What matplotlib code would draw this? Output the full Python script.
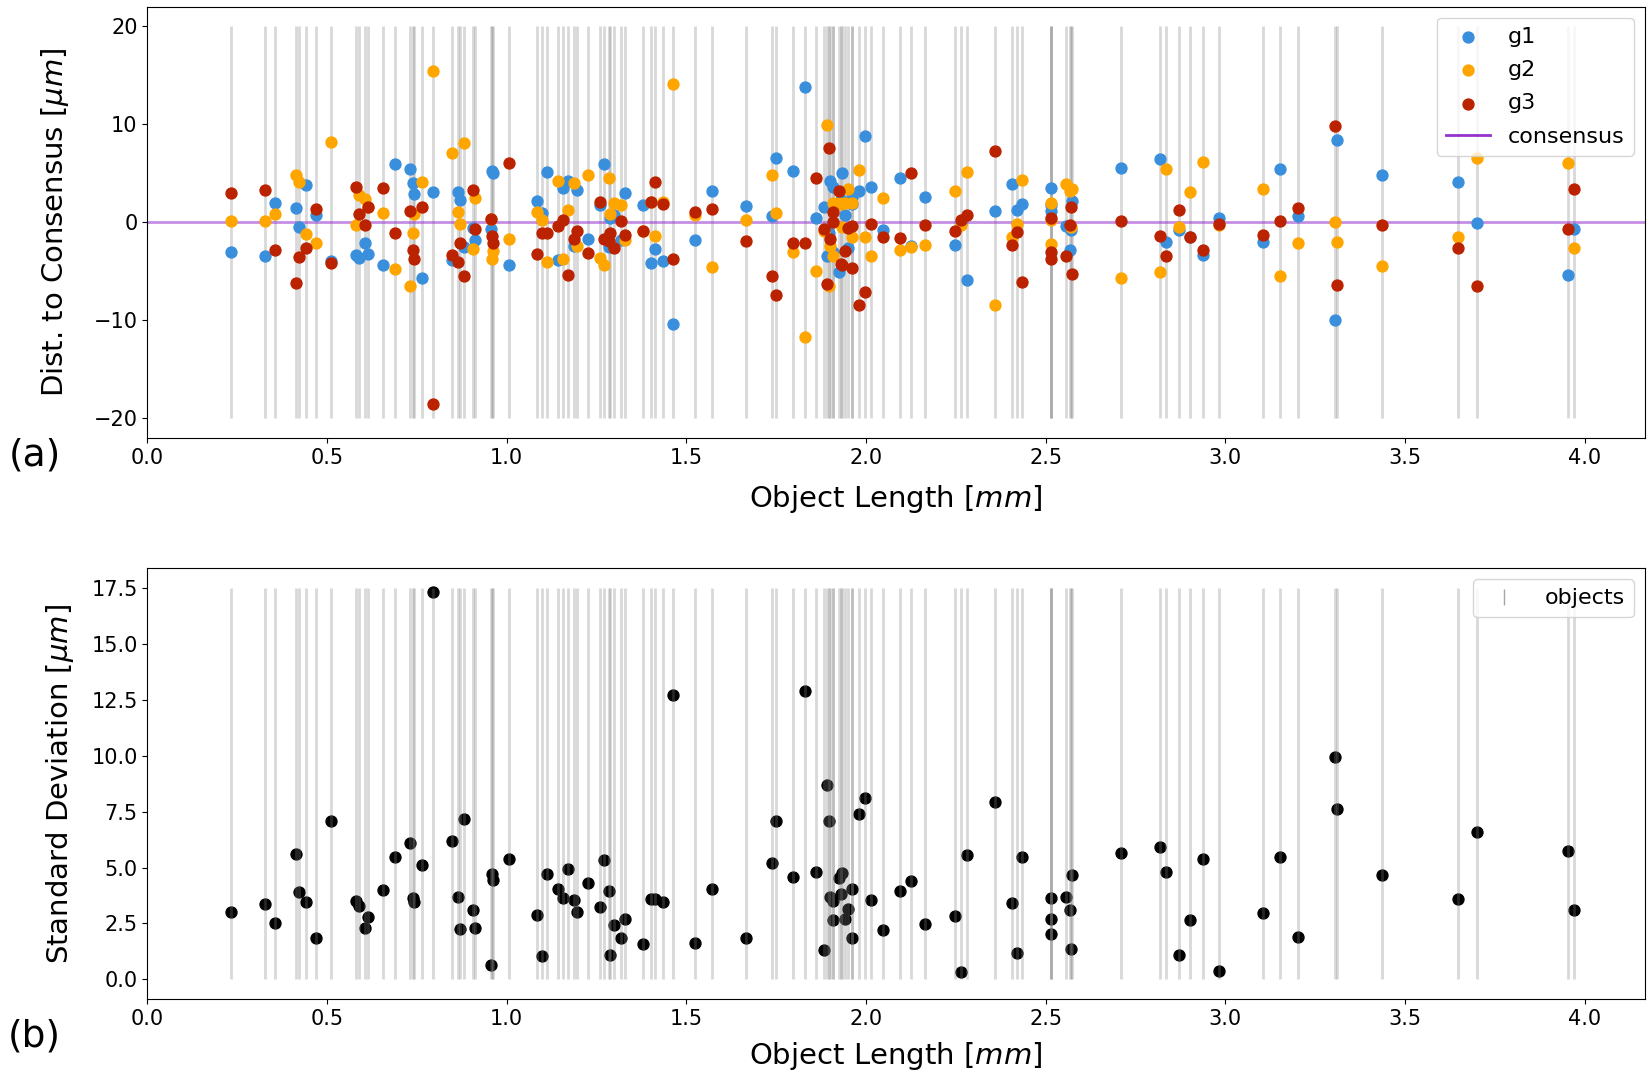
import numpy as np
import matplotlib
matplotlib.use('Agg')
import matplotlib.pyplot as plt
from matplotlib.lines import Line2D

# object lengths [mm]
length = [0.233, 0.326, 0.355, 0.414, 0.423, 0.441, 0.469, 0.512, 0.582, 0.590,
          0.607, 0.615, 0.657, 0.690, 0.730, 0.738, 0.741, 0.764, 0.794, 0.849,
          0.864, 0.869, 0.882, 0.905, 0.911, 0.957, 0.959, 0.962, 1.007, 1.083,
          1.099, 1.111, 1.142, 1.157, 1.171, 1.187, 1.196, 1.227, 1.260, 1.271,
          1.285, 1.287, 1.299, 1.318, 1.329, 1.379, 1.401, 1.414, 1.434, 1.463,
          1.524, 1.572, 1.666, 1.737, 1.749, 1.797, 1.830, 1.860, 1.884, 1.892,
          1.898, 1.900, 1.908, 1.907, 1.925, 1.930, 1.933, 1.942, 1.950, 1.960,
          1.961, 1.980, 1.997, 2.013, 2.048, 2.095, 2.125, 2.164, 2.248, 2.263,
          2.282, 2.360, 2.407, 2.419, 2.435, 2.514, 2.515, 2.516, 2.556, 2.568,
          2.570, 2.573, 2.710, 2.819, 2.834, 2.870, 2.901, 2.939, 2.983, 3.104,
          3.151, 3.203, 3.306, 3.311, 3.436, 3.646, 3.700, 3.954, 3.971]

# distance of each group to consensus [um]
dev_g1 = [-3.06, -3.40, 2.00, 1.43, -0.51, 3.84, 0.78, -3.90, -3.33, -3.63,
          -2.07, -3.19, -4.35, 5.94, 5.47, 4.04, 2.85, -5.70, 3.09, -3.80,
          3.06, 2.31, -2.50, -0.58, -1.83, -0.68, 5.19, 5.02, -4.31, 2.21,
          0.95, 5.16, -3.80, 3.50, 4.18, -2.38, 3.33, -1.70, 1.73, 5.94,
          -2.51, 0.44, 0.78, -1.77, 3.02, 1.73, -4.14, -2.72, -3.90, -10.36,
          -1.83, 3.16, 1.66, 0.68, 6.55, 5.23, 13.79, 0.48, 1.53, -3.46,
          -1.12, 4.25, 3.60, -3.06, -5.09, 2.30, 5.03, 0.75, -2.61, 2.60,
          1.90, 3.16, 8.76, 3.60, -0.81, 4.48, -2.38, 2.61, -2.27, -0.03,
          -5.84, 1.12, 3.94, 1.29, 1.87, 3.50, 1.12, 1.77, -0.41, -2.85,
          -0.75, 2.14, 5.53, 6.45, -2.00, -0.75, -1.53, -3.29, 0.44, -2.04,
          5.40, 0.61, -9.92, 8.39, 4.79, 4.07, -0.03, -5.33, -0.71]
dev_g2 = [0.14, 0.14, 0.85, 4.79, 4.14, -1.15, -2.07, 8.15, -0.27, 2.82,
          2.41, 1.56, 0.95, -4.75, -6.52, -1.09, 0.85, 4.07, 15.48, 7.10,
          1.05, -0.14, 8.05, -2.72, 2.51, 0.31, -3.74, -2.95, -1.70, 1.09,
          0.20, -4.04, 4.18, -3.70, 1.29, 4.04, -2.38, 4.86, -3.63, -4.31,
          4.52, 0.85, 1.97, 1.80, -1.77, -0.88, 2.07, -1.36, 2.10, 14.09,
          0.78, -4.52, 0.27, 4.86, 0.95, -3.06, -11.68, -4.99, -0.89, 9.92,
          -6.45, -2.44, -3.46, 2.00, 2.00, 1.90, -0.47, 2.00, 3.40, 2.00,
          -1.49, 5.30, -1.49, -3.39, 2.48, -2.78, -2.51, -2.31, 3.16, -0.24,
          5.13, -8.39, -1.49, -0.14, 4.31, 0.20, 1.97, -2.21, 3.90, 3.16,
          -0.51, 3.40, -5.67, -5.06, 5.43, -0.51, 3.06, 6.15, -0.27, 3.36,
          -5.50, -2.11, 0.03, -2.00, -4.48, -1.46, 6.52, 6.08, -2.61]
dev_g3 = [2.95, 3.29, -2.82, -6.15, -3.57, -2.61, 1.32, -4.14, 3.57, 0.81,
          -0.31, 1.60, 3.46, -1.05, 1.15, -2.85, -3.74, 1.60, -18.57, -3.29,
          -4.07, -2.14, -5.50, 3.33, -0.68, 0.37, -1.43, -2.10, 6.01, -3.23,
          -1.09, -1.09, -0.34, 0.27, -5.40, -1.66, -0.92, -3.12, 2.04, -1.70,
          -1.95, -1.09, -2.61, 0.10, -1.26, -0.85, 2.07, 4.07, 1.87, -3.70,
          1.05, 1.36, -1.94, -5.50, -7.44, -2.14, -2.10, 4.52, -0.64, -6.24,
          7.57, -1.69, 0.00, 1.06, 3.16, -4.20, -4.31, -2.95, -0.55, -4.61,
          -0.38, -8.38, -7.13, -0.13, -1.49, -1.59, 5.03, -0.31, -0.92, 0.27,
          0.75, 7.30, -2.27, -0.98, -6.08, -3.70, -3.02, 0.44, -3.40, -0.24,
          1.56, -5.26, 0.17, -1.36, -3.46, 1.22, -1.53, -2.78, -0.17, -1.32,
          0.14, 1.49, 9.88, -6.38, -0.31, -2.61, -6.52, -0.71, 3.36]

# standard deviation across groups [um]
std_dev = [3.03, 3.39, 2.54, 5.62, 3.90, 3.45, 1.86, 7.06, 3.51, 3.30,
           2.30, 2.80, 4.01, 5.47, 6.11, 3.63, 3.45, 5.13, 17.31, 6.19,
           3.69, 2.23, 7.18, 3.08, 2.30, 0.65, 4.70, 4.42, 5.38, 2.88,
           1.04, 4.73, 4.03, 3.64, 4.95, 3.54, 3.00, 4.31, 3.23, 5.32,
           3.93, 1.07, 2.41, 1.84, 2.68, 1.56, 3.60, 3.60, 3.45, 12.70,
           1.64, 4.06, 1.84, 5.22, 7.08, 4.59, 12.91, 4.80, 1.33, 8.71,
           7.10, 3.66, 3.52, 2.64, 4.52, 3.80, 4.75, 2.71, 3.15, 4.05,
           1.83, 7.38, 8.09, 3.54, 2.19, 3.94, 4.39, 2.48, 2.84, 0.33,
           5.58, 7.94, 3.43, 1.19, 5.46, 3.64, 2.71, 2.05, 3.66, 3.09,
           1.35, 4.67, 5.63, 5.90, 4.79, 1.07, 2.66, 5.38, 0.37, 2.97,
           5.48, 1.90, 9.93, 7.63, 4.68, 3.60, 6.57, 5.75, 3.09]

groups = ['g1', 'g2', 'g3']
colors = ['#3a8fdc', '#ffa500', '#bb2200']
dev_ticks = [-20, -10, 0, 10, 20]


def main():
    plt.rcParams['font.size'] = 15
    fig = plt.figure(figsize=(16.52, 10.81), dpi=100)
    ax1 = fig.add_axes([0.0892, 0.5948, 0.9064, 0.399])
    ax2 = fig.add_axes([0.0892, 0.0759, 0.9064, 0.3984])

    # top: distance to consensus
    ax1.vlines(length, -20, 20, color='gray', alpha=0.3, lw=2)
    for dev, name, c in zip([dev_g1, dev_g2, dev_g3], groups, colors):
        ax1.scatter(length, dev, s=62, color=c, label=name, zorder=3)
    ax1.axhline(0, color='#9632cc', alpha=0.55, lw=2, label='consensus', zorder=2)
    ax1.set_xlim(0, 4.167)
    ax1.set_yticks(dev_ticks)
    ax1.set_xlabel('Object Length [$mm$]', fontsize=21, labelpad=11)
    ax1.set_ylabel('Dist. to Consensus [$\\mu m$]', fontsize=21, labelpad=16)
    leg = ax1.legend(loc='upper right', fontsize=16, labelspacing=0.6)
    leg.get_lines()[0].set_alpha(1)

    # bottom: standard deviation
    ax2.scatter(length, std_dev, s=62, color='black', zorder=1)
    ax2.vlines(length, 0, 17.5, color='gray', alpha=0.3, lw=2, zorder=2)
    ax2.set_xlim(0, 4.167)
    ax2.set_xlabel('Object Length [$mm$]', fontsize=21, labelpad=8)
    ax2.set_ylabel('Standard Deviation [$\\mu m$]', fontsize=21, labelpad=11)
    handle = Line2D([], [], marker='|', linestyle='none', color='gray',
                    markersize=12, alpha=0.7)
    ax2.legend([handle], ['objects'], loc='upper right', fontsize=16)

    fig.text(0.021, 0.579, '(a)', fontsize=27, ha='center', va='center')
    fig.text(0.021, 0.041, '(b)', fontsize=27, ha='center', va='center')

    fig.savefig('out.png', dpi=100)


if __name__ == '__main__':
    main()
